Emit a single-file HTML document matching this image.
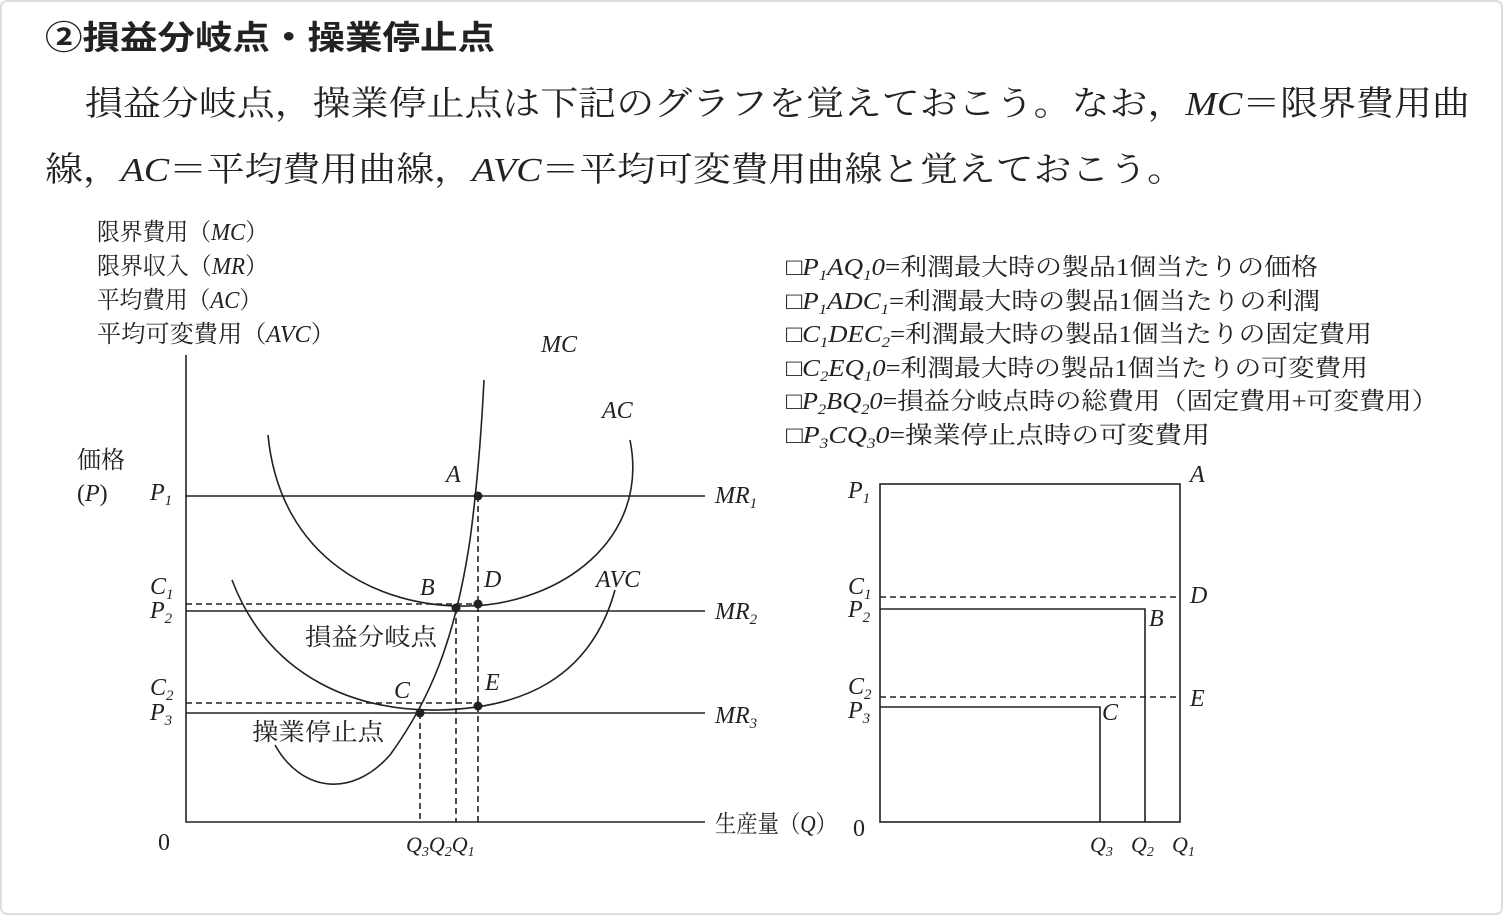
<!DOCTYPE html>
<html><head><meta charset="utf-8"><style>
html,body{margin:0;padding:0;background:#fff}
svg{display:block}
text{font-family:"Liberation Serif","Noto Serif CJK JP",serif;fill:#222}
.i{font-style:italic}
</style></head><body>
<svg width="1503" height="915" viewBox="0 0 1503 915" xmlns="http://www.w3.org/2000/svg">
<rect x="1" y="1" width="1501" height="913" rx="6" fill="#fff" stroke="#ddd" stroke-width="2"/>
<text x="45" y="49" font-size="33" font-weight="bold" style="font-family:'Liberation Sans','Noto Sans CJK JP',sans-serif" textLength="450" lengthAdjust="spacingAndGlyphs">②損益分岐点・操業停止点</text>
<text x="85" y="115" font-size="34" textLength="1385" lengthAdjust="spacingAndGlyphs">損益分岐点，操業停止点は下記のグラフを覚えておこう。なお，<tspan class="i">MC</tspan>＝限界費用曲</text>
<text x="45" y="181" font-size="34" textLength="1140" lengthAdjust="spacingAndGlyphs">線，<tspan class="i">AC</tspan>＝平均費用曲線，<tspan class="i">AVC</tspan>＝平均可変費用曲線と覚えておこう。</text>

<g font-size="24">
<text x="97" y="240" textLength="171" lengthAdjust="spacingAndGlyphs">限界費用（<tspan class="i">MC</tspan>）</text>
<text x="97" y="274" textLength="171" lengthAdjust="spacingAndGlyphs">限界収入（<tspan class="i">MR</tspan>）</text>
<text x="97" y="308" textLength="165" lengthAdjust="spacingAndGlyphs">平均費用（<tspan class="i">AC</tspan>）</text>
<text x="97" y="342" textLength="238" lengthAdjust="spacingAndGlyphs">平均可変費用（<tspan class="i">AVC</tspan>）</text>
<text x="77" y="468">価格</text>
<text x="77" y="501">(<tspan class="i">P</tspan>)</text>
<text x="150" y="500" class="i">P<tspan font-size="15" dy="5">1</tspan></text>
<text x="150" y="594" class="i">C<tspan font-size="15" dy="5">1</tspan></text>
<text x="150" y="618" class="i">P<tspan font-size="15" dy="5">2</tspan></text>
<text x="150" y="695" class="i">C<tspan font-size="15" dy="5">2</tspan></text>
<text x="150" y="720" class="i">P<tspan font-size="15" dy="5">3</tspan></text>
<text x="158" y="850">0</text>
<text x="541" y="352" class="i">MC</text>
<text x="602" y="418" class="i">AC</text>
<text x="596" y="587" class="i">AVC</text>
<text x="715" y="503" class="i">MR<tspan font-size="15" dy="5">1</tspan></text>
<text x="715" y="619" class="i">MR<tspan font-size="15" dy="5">2</tspan></text>
<text x="715" y="723" class="i">MR<tspan font-size="15" dy="5">3</tspan></text>
<text x="715" y="832" textLength="122" lengthAdjust="spacingAndGlyphs">生産量（<tspan class="i">Q</tspan>）</text>
<text x="446" y="482" class="i">A</text>
<text x="420" y="595" class="i">B</text>
<text x="484" y="587" class="i">D</text>
<text x="394" y="698" class="i">C</text>
<text x="485" y="690" class="i">E</text>
<text x="305" y="645" textLength="132" lengthAdjust="spacingAndGlyphs">損益分岐点</text>
<text x="252" y="740" textLength="132" lengthAdjust="spacingAndGlyphs">操業停止点</text>
<text x="406" y="852" class="i" font-size="22">Q<tspan font-size="14" dy="4">3</tspan><tspan dy="-4">Q</tspan><tspan font-size="14" dy="4">2</tspan><tspan dy="-4">Q</tspan><tspan font-size="14" dy="4">1</tspan></text>
</g>

<g stroke="#222" stroke-width="1.6" fill="none">
<path d="M186 355 V822 H705"/>
<path d="M186 496 H705 M186 611 H705 M186 713 H705"/>
<g stroke-dasharray="6 4">
<path d="M186 604 H478 M186 703 H478"/>
<path d="M420 713 V822 M456 608 V822 M478 496 V822"/>
</g>
<path d="M268 435 C280 560 380 608 468 606 C560 604 650 540 630 440"/>
<path d="M232 580 C270 680 360 712 440 710 C520 708 590 680 615 590"/>
<path d="M275 745 C300 790 350 800 390 755 C430 700 455 640 470 540 C478 480 482 420 484 380"/>
</g>
<g fill="#222">
<circle cx="478" cy="496" r="4.5"/><circle cx="456" cy="608" r="4.5"/><circle cx="478" cy="604" r="4.5"/>
<circle cx="420" cy="713" r="4.5"/><circle cx="478" cy="706" r="4.5"/>
</g>

<g font-size="24">
<text x="786" y="275" textLength="532" lengthAdjust="spacingAndGlyphs">□<tspan class="i">P</tspan><tspan font-size="15" dy="5" class="i">1</tspan><tspan dy="-5" class="i">AQ</tspan><tspan font-size="15" dy="5" class="i">1</tspan><tspan dy="-5" class="i">0</tspan>=利潤最大時の製品1個当たりの価格</text>
<text x="786" y="309" textLength="534" lengthAdjust="spacingAndGlyphs">□<tspan class="i">P</tspan><tspan font-size="15" dy="5" class="i">1</tspan><tspan dy="-5" class="i">ADC</tspan><tspan font-size="15" dy="5" class="i">1</tspan><tspan dy="-5">=利潤最大時の製品1個当たりの利潤</tspan></text>
<text x="786" y="342" textLength="586" lengthAdjust="spacingAndGlyphs">□<tspan class="i">C</tspan><tspan font-size="15" dy="5" class="i">1</tspan><tspan dy="-5" class="i">DEC</tspan><tspan font-size="15" dy="5" class="i">2</tspan><tspan dy="-5">=利潤最大時の製品1個当たりの固定費用</tspan></text>
<text x="786" y="376" textLength="582" lengthAdjust="spacingAndGlyphs">□<tspan class="i">C</tspan><tspan font-size="15" dy="5" class="i">2</tspan><tspan dy="-5" class="i">EQ</tspan><tspan font-size="15" dy="5" class="i">1</tspan><tspan dy="-5" class="i">0</tspan>=利潤最大時の製品1個当たりの可変費用</text>
<text x="786" y="409" textLength="652" lengthAdjust="spacingAndGlyphs">□<tspan class="i">P</tspan><tspan font-size="15" dy="5" class="i">2</tspan><tspan dy="-5" class="i">BQ</tspan><tspan font-size="15" dy="5" class="i">2</tspan><tspan dy="-5" class="i">0</tspan>=損益分岐点時の総費用（固定費用+可変費用）</text>
<text x="786" y="443" textLength="424" lengthAdjust="spacingAndGlyphs">□<tspan class="i">P</tspan><tspan font-size="15" dy="5" class="i">3</tspan><tspan dy="-5" class="i">CQ</tspan><tspan font-size="15" dy="5" class="i">3</tspan><tspan dy="-5" class="i">0</tspan>=操業停止点時の可変費用</text>

<text x="848" y="498" class="i">P<tspan font-size="15" dy="5">1</tspan></text>
<text x="848" y="594" class="i">C<tspan font-size="15" dy="5">1</tspan></text>
<text x="848" y="617" class="i">P<tspan font-size="15" dy="5">2</tspan></text>
<text x="848" y="694" class="i">C<tspan font-size="15" dy="5">2</tspan></text>
<text x="848" y="718" class="i">P<tspan font-size="15" dy="5">3</tspan></text>
<text x="853" y="836">0</text>
<text x="1190" y="482" class="i">A</text>
<text x="1190" y="603" class="i">D</text>
<text x="1149" y="626" class="i">B</text>
<text x="1190" y="706" class="i">E</text>
<text x="1102" y="720" class="i">C</text>
<text x="1090" y="852" class="i" font-size="22">Q<tspan font-size="14" dy="4">3</tspan></text>
<text x="1131" y="852" class="i" font-size="22">Q<tspan font-size="14" dy="4">2</tspan></text>
<text x="1172" y="852" class="i" font-size="22">Q<tspan font-size="14" dy="4">1</tspan></text>
</g>
<g stroke="#222" stroke-width="1.6" fill="none">
<rect x="880" y="484" width="300" height="338"/>
<path d="M880 609 H1145 V822 M880 707 H1100 V822"/>
<path d="M880 597 H1180 M880 697 H1180" stroke-dasharray="6 4"/>
</g>
</svg>
</body></html>
